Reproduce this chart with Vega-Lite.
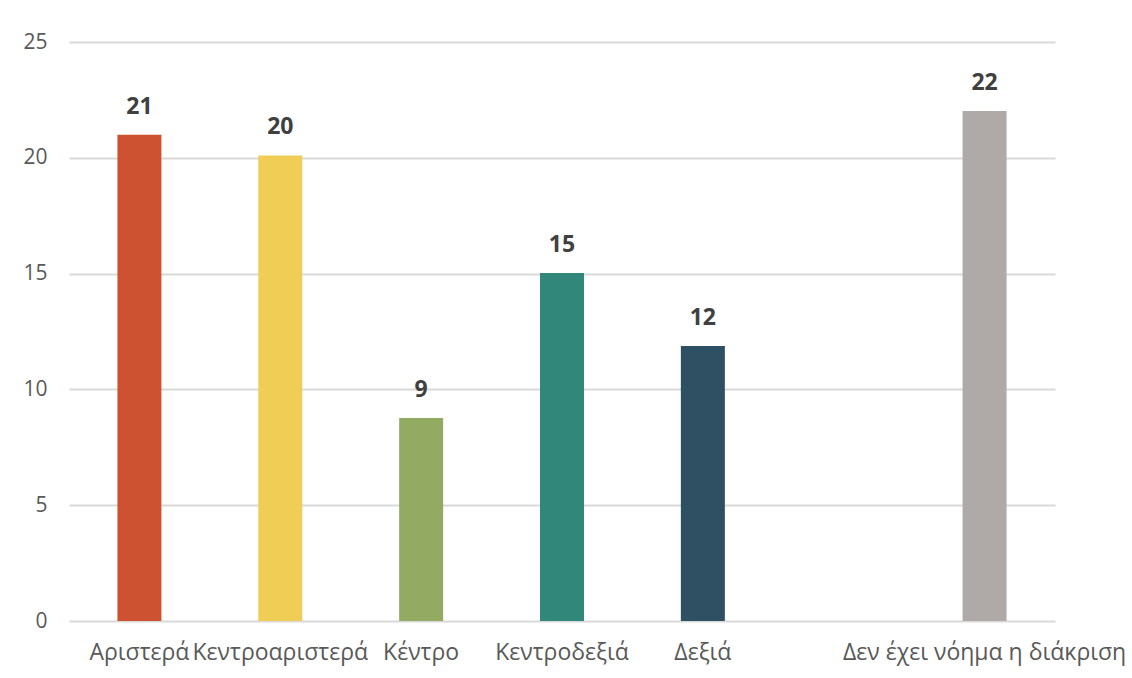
{
  "$schema": "https://vega.github.io/schema/vega-lite/v6.json",
  "width": 986,
  "height": 579,
  "autosize": "none",
  "padding": {"left": 69, "top": 42, "right": 77, "bottom": 57},
  "background": "white",
  "config": {
    "view": {"stroke": null},
    "font": "Open Sans"
  },
  "data": {
    "values": [
      {"cat": "Αριστερά", "value": 21.0, "color": "#CD5232"},
      {"cat": "Κεντροαριστερά", "value": 20.1, "color": "#F0CD55"},
      {"cat": "Κέντρο", "value": 8.77, "color": "#93AA63"},
      {"cat": "Κεντροδεξιά", "value": 15.03, "color": "#30877A"},
      {"cat": "Δεξιά", "value": 11.87, "color": "#2F4F62"},
      {"cat": "Δεν έχει νόημα η διάκριση", "value": 22.02, "color": "#AFAAA8"}
    ]
  },
  "encoding": {
    "x": {
      "field": "cat",
      "type": "nominal",
      "sort": null,
      "scale": {
        "domain": ["Αριστερά", "Κεντροαριστερά", "Κέντρο", "Κεντροδεξιά", "Δεξιά", " ", "Δεν έχει νόημα η διάκριση"],
        "paddingInner": 0,
        "paddingOuter": 0
      },
      "axis": {
        "title": null,
        "labelAngle": 0,
        "labelFontSize": 23,
        "labelColor": "#595959",
        "labelPadding": 20,
        "labelLimit": 400,
        "labelOverlap": false,
        "ticks": false,
        "domain": false
      }
    },
    "y": {
      "field": "value",
      "type": "quantitative",
      "scale": {"domain": [0, 25]},
      "axis": {
        "title": null,
        "values": [0, 5, 10, 15, 20, 25],
        "labelFontSize": 21,
        "labelColor": "#595959",
        "labelPadding": 22,
        "ticks": false,
        "domain": false,
        "gridColor": "#D9D9D9",
        "gridWidth": 2
      }
    }
  },
  "layer": [
    {
      "mark": {"type": "bar", "size": 44},
      "encoding": {
        "color": {"field": "color", "type": "nominal", "scale": null, "legend": null}
      }
    },
    {
      "mark": {"type": "text", "baseline": "alphabetic", "dy": -21, "fontSize": 23, "fontWeight": "bold", "color": "#404040"},
      "encoding": {
        "text": {"field": "value", "type": "quantitative", "format": ".0f"}
      }
    }
  ]
}
